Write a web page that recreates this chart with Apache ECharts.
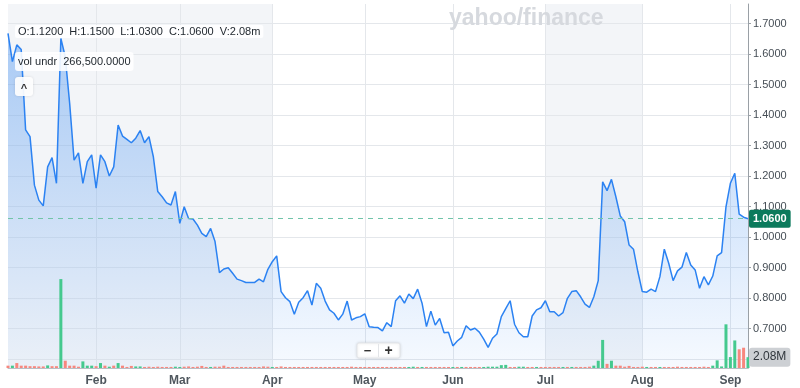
<!DOCTYPE html>
<html><head><meta charset="utf-8">
<script src="https://cdn.jsdelivr.net/npm/echarts@6/dist/echarts.min.js"></script>
<style>html,body{margin:0;padding:0;background:#fff}#c{width:800px;height:388px}</style>
</head><body><div id="c"></div>
<script>
// ---- data ----
const price = [
  1.668,1.575,1.63,1.615,1.351,1.329,1.17,1.121,1.102,1.23,
  1.26,1.176,1.651,1.591,1.438,1.252,1.276,1.176,1.247,1.269,
  1.16,1.269,1.247,1.2,1.23,1.367,1.331,1.32,1.309,1.324,
  1.349,1.309,1.329,1.263,1.149,1.132,1.112,1.105,1.149,1.045,
  1.099,1.061,1.059,1.039,1.012,1.001,1.028,0.985,0.883,0.895,
  0.899,0.881,0.862,0.857,0.851,0.851,0.851,0.862,0.853,0.894,
  0.919,0.938,0.821,0.801,0.788,0.747,0.786,0.801,0.824,0.777,
  0.848,0.832,0.79,0.761,0.75,0.728,0.747,0.79,0.728,0.735,
  0.739,0.748,0.706,0.704,0.703,0.692,0.719,0.706,0.791,0.807,
  0.783,0.813,0.798,0.829,0.783,0.706,0.757,0.711,0.733,0.686,
  0.688,0.643,0.659,0.671,0.709,0.695,0.701,0.688,0.665,0.638,
  0.668,0.682,0.739,0.765,0.791,0.714,0.686,0.673,0.673,0.741,
  0.761,0.768,0.791,0.755,0.755,0.741,0.752,0.799,0.821,0.824,
  0.804,0.78,0.769,0.804,0.857,1.181,1.152,1.189,1.132,1.069,
  1.05,0.974,0.96,0.886,0.821,0.819,0.829,0.821,0.87,0.96,
  0.914,0.857,0.889,0.901,0.949,0.908,0.892,0.832,0.87,0.843,
  0.872,0.938,0.949,1.099,1.176,1.209,1.075,1.065,1.06
];
// volume in millions
const volume = [
  0.45,0.45,0.95,0.45,0.45,0.35,0.35,0.3,0.3,0.5,
  0.35,0.35,17.1,1.4,0.45,0.45,0.25,1.27,0.45,0.45,
  0.35,0.95,0.45,0.25,0.45,0.95,0.45,0.2,0.4,0.3,
  0.3,0.2,0.25,0.2,0.25,0.2,0.2,0.2,0.25,0.2,
  0.25,0.3,0.2,0.25,0.4,0.2,0.2,0.25,0.25,0.45,
  0.2,0.2,0.2,0.2,0.2,0.2,0.2,0.2,0.3,0.25,
  0.2,0.2,0.3,0.2,0.2,0.2,0.2,0.2,0.2,0.2,
  0.2,0.2,0.2,0.2,0.2,0.2,0.2,0.2,0.25,0.2,
  0.2,0.2,0.2,0.2,0.2,0.2,0.2,0.2,0.2,0.2,
  0.2,0.2,0.25,0.2,0.2,0.2,0.2,0.2,0.2,0.2,
  0.2,0.2,0.2,0.2,0.2,0.2,0.2,0.2,0.2,0.25,
  0.25,0.25,0.55,0.6,0.2,0.2,0.25,0.25,0.2,0.2,
  0.2,0.2,0.2,0.2,0.2,0.2,0.2,0.2,0.2,0.2,
  0.2,0.2,0.25,0.45,1.4,5.4,0.8,1.4,0.45,0.45,
  0.25,0.4,0.2,0.2,0.25,0.2,0.2,0.2,0.2,0.2,
  0.2,0.2,0.25,0.2,0.2,0.2,0.2,0.2,0.25,0.2,
  0.45,1.47,0.3,8.4,2.1,5.3,3.6,3.9,2.08
];
// u = up (green), d = down (red)
const volDir = [
  'dudddddddu',
  'ddudddduuu',
  'dudududddu',
  'uddddddduu',
  'dddddduddd',
  'dddddddddd',
  'uddddddddd',
  'dddddddddd',
  'dddddddddd',
  'duududdddd',
  'dududdddu u'.replace(' ', ''),
  'uuuudduudd',
  'udddddudud',
  'ddduuududd',
  'ddddduddud',
  'dddddddddd',
  'uuuuuuddu'
].join('').split('');
const monthLabels = ['Feb','Mar','Apr','May','Jun','Jul','Aug','Sep'];
const monthStarts = [20,39,60,81,101,122,144,164];   // index of first trading day
const shadedMonths = [1,1,1,0,0,0,1,0,0];            // Jan..Sep background band
const ohlcText = ['O:1.1200','H:1.1500','L:1.0300','C:1.0600','V:2.08m'];
const volUnderText = ['vol undr','266,500.0000'];
const lastPrice = 1.06;
const lastVolume = 2.08;
const yMin = 0.5, yMax = 1.8, yStep = 0.1;
const watermark = 'yahoo/finance';

// ---- chart ----
const cats = price.map((_, i) => String(i));
const labelAt = {};
monthStarts.forEach((s, k) => labelAt[s] = monthLabels[k]);
const bandIdx = new Set([0, ...monthStarts, price.length - 1]);
const FONT = '"Liberation Sans", Arial, sans-serif';
const UP = '#45c98e', DOWN = '#f7877e';

const chart = echarts.init(document.getElementById('c'), null, {renderer: 'canvas'});
chart.setOption({
  animation: false,
  backgroundColor: '#ffffff',
  textStyle: {fontFamily: FONT},
  grid: [
    {left: 8, right: 52, top: -7, bottom: -1.5, outerBoundsMode: 'none', containLabel: false},
    {left: 8, right: 52, top: 4, bottom: 20, outerBoundsMode: 'none', containLabel: false}
  ],
  xAxis: [
    {type: 'category', gridIndex: 0, data: cats, boundaryGap: false, show: false},
    {type: 'category', gridIndex: 1, data: cats, boundaryGap: false, z: -1,
      axisLine: {show: true, lineStyle: {color: '#b9bec4', width: 1}},
      axisTick: {show: false},
      axisLabel: {show: true, interval: (i) => labelAt[i] !== undefined,
        formatter: (v, i) => labelAt[i] || '', color: '#4f575e', fontSize: 12,
        fontWeight: 'bold', fontFamily: FONT, margin: 7},
      splitLine: {show: true, interval: (i) => labelAt[i] !== undefined,
        lineStyle: {color: '#e4e7eb', width: 1}},
      splitArea: {show: true, interval: (i) => bandIdx.has(i),
        areaStyle: {color: shadedMonths.map(s => s ? '#f3f5f8' : 'rgba(255,255,255,0)')}}
    }
  ],
  yAxis: [
    {type: 'value', gridIndex: 0, position: 'right', min: yMin, max: yMax, interval: yStep,
      axisLine: {show: false},
      axisTick: {show: true, length: 3, lineStyle: {color: '#9aa0a6'}},
      axisLabel: {show: true, margin: 5, color: '#464e56', fontSize: 11, fontFamily: FONT,
        formatter: (v) => (v < 0.65 || v > 1.75) ? '' : v.toFixed(4)},
      splitLine: {show: true, lineStyle: {color: '#e4e7eb', width: 1}}
    },
    {type: 'value', gridIndex: 1, position: 'right', min: 0, max: 70,
      axisLine: {show: true, lineStyle: {color: '#9aa0a6', width: 1}},
      axisTick: {show: false}, axisLabel: {show: false}, splitLine: {show: false}
    }
  ],
  series: [
    {
      type: 'line', xAxisIndex: 0, yAxisIndex: 0, data: price, z: 2,
      symbol: 'none', smooth: false,
      lineStyle: {color: '#2b82f2', width: 1.5},
      areaStyle: {origin: 0.5705, color: new echarts.graphic.LinearGradient(0, 0, 0, 1, [
        {offset: 0, color: 'rgba(40,128,240,0.52)'},
        {offset: 1, color: 'rgba(40,128,240,0.06)'}
      ])},
      markLine: {
        silent: true, symbol: ['none', 'none'], animation: false,
        lineStyle: {type: [5, 5], color: '#71c4a9', width: 1},
        label: {show: true, position: 'end', distance: 1,
          formatter: () => lastPrice.toFixed(4),
          backgroundColor: '#0b7a5c', color: '#fff', fontSize: 11, fontWeight: 'bold',
          fontFamily: FONT, padding: [4, 4, 3, 4], borderRadius: 2},
        data: [{yAxis: lastPrice}]
      }
    },
    {
      type: 'bar', xAxisIndex: 1, yAxisIndex: 1, z: 3, barWidth: 3,
      data: volume.map((v, i) => ({value: v, itemStyle: {color: volDir[i] === 'u' ? UP : DOWN}})),
      markLine: {
        silent: true, symbol: ['none', 'none'], animation: false,
        lineStyle: {color: 'rgba(0,0,0,0)', width: 1, type: 'solid'},
        label: {show: true, position: 'end', distance: 1,
          formatter: () => lastVolume.toFixed(2) + 'M',
          backgroundColor: '#cdd0d4', color: '#2f353b', fontSize: 12,
          fontFamily: FONT, padding: [4, 4, 3, 4], borderRadius: 3},
        data: [{yAxis: lastVolume}]
      }
    }
  ],
  graphic: [
    {type: 'text', x: 449, y: 19, z: 1, silent: true,
      style: {text: watermark, font: 'bold 23px ' + FONT, fill: '#d6d9de', verticalAlign: 'middle'}},
    {type: 'text', x: 15, y: 25, z: 20, silent: true,
      style: {text: ohlcText.join('  '), font: '11px ' + FONT, fill: '#232a31',
        backgroundColor: 'rgba(255,255,255,0.88)', padding: [0, 3, 0, 3], lineHeight: 13,
        borderRadius: 2, verticalAlign: 'top'}},
    {type: 'text', x: 15, y: 52, z: 20, silent: true,
      style: {text: volUnderText.join('  '), font: '11px ' + FONT, fill: '#232a31',
        backgroundColor: 'rgba(255,255,255,0.88)', padding: [3, 3, 3, 3], lineHeight: 13,
        borderRadius: 3, verticalAlign: 'top'}},
    {type: 'rect', z: 20, silent: true, shape: {x: 15, y: 77, width: 18, height: 19, r: 3},
      style: {fill: 'rgba(255,255,255,0.92)', shadowBlur: 3, shadowColor: 'rgba(0,0,0,0.12)'}},
    {type: 'text', x: 24, y: 89, z: 21, silent: true,
      style: {text: '^', font: 'bold 11px ' + FONT, fill: '#333', align: 'center', verticalAlign: 'middle'}},
    {type: 'rect', z: 20, silent: true, shape: {x: 357, y: 343, width: 43, height: 15, r: 2},
      style: {fill: '#fff', stroke: '#e3e5e8', shadowBlur: 3, shadowColor: 'rgba(0,0,0,0.12)'}},
    {type: 'line', z: 21, silent: true, shape: {x1: 378.5, y1: 344, x2: 378.5, y2: 357},
      style: {stroke: '#e3e5e8'}},
    {type: 'text', x: 367.5, y: 351, z: 21, silent: true,
      style: {text: '\u2212', font: 'bold 13px ' + FONT, fill: '#333', align: 'center', verticalAlign: 'middle'}},
    {type: 'text', x: 388.5, y: 351, z: 21, silent: true,
      style: {text: '+', font: 'bold 14px ' + FONT, fill: '#333', align: 'center', verticalAlign: 'middle'}}
  ]
});
</script></body></html>
